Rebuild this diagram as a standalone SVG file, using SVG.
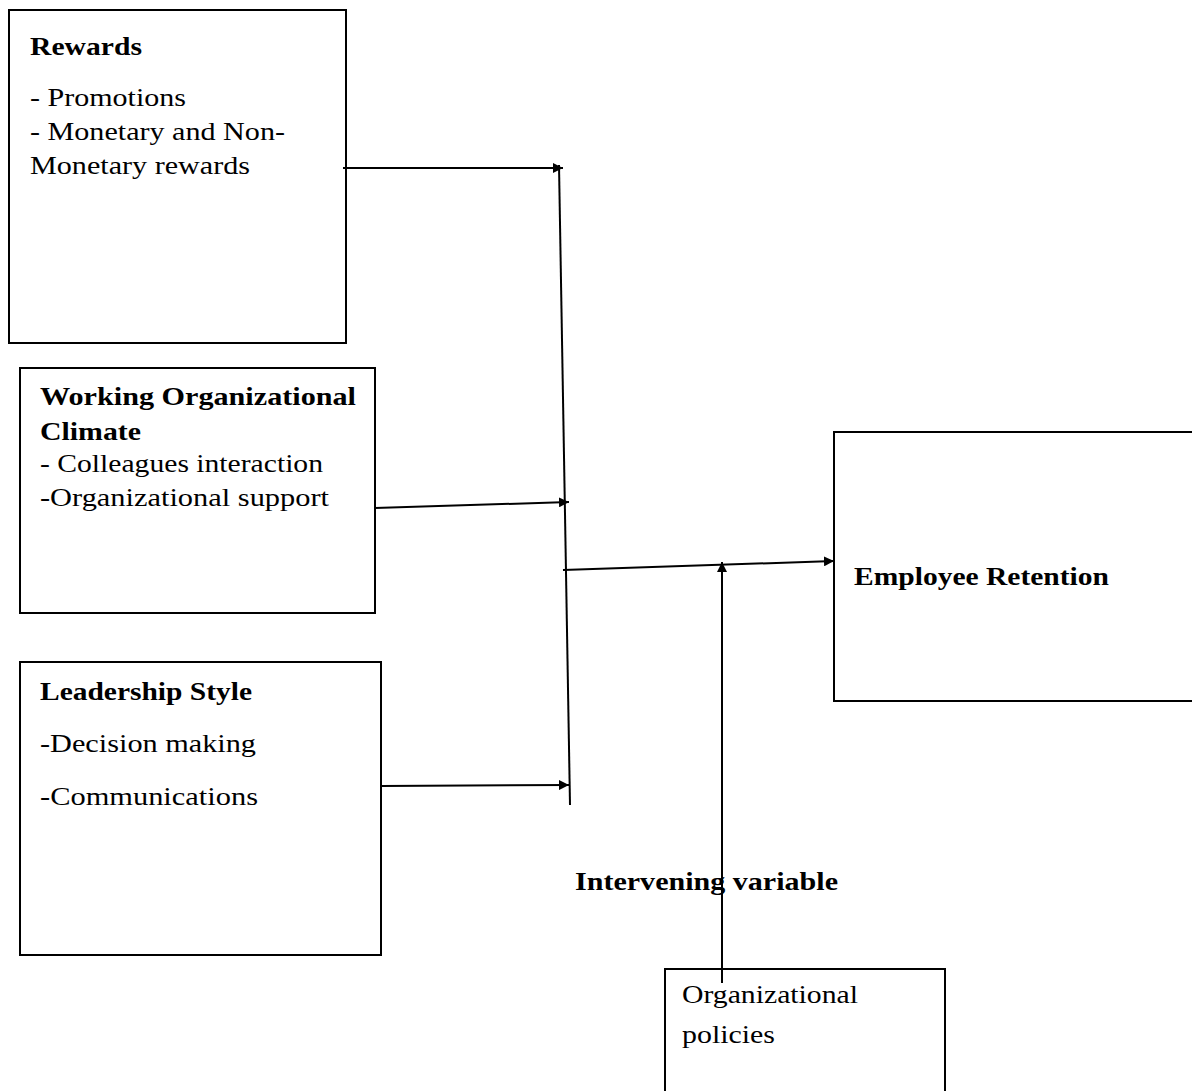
<svg xmlns="http://www.w3.org/2000/svg" width="1192" height="1091" viewBox="0 0 1192 1091">
<defs>
<style>
.box{fill:#fff;stroke:#000;stroke-width:2}
.t{font-family:"Liberation Serif","Times New Roman",serif;font-size:25px;fill:#000}
.b{font-weight:bold}
.c{stroke:#000;stroke-width:2;fill:none}
</style>
<marker id="ah" viewBox="0 0 10 10" refX="10" refY="5" markerWidth="5" markerHeight="5" orient="auto" markerUnits="strokeWidth">
<path d="M0,0 L10,5 L0,10 z" fill="#000"/>
</marker>
</defs>
<rect width="1192" height="1091" fill="#fff"/>
<g id="rewards">
<rect class="box" x="9" y="10" width="337" height="333"/>
<text class="t b" x="30" y="55" textLength="112" lengthAdjust="spacingAndGlyphs">Rewards</text>
<text class="t" x="30" y="106" textLength="156" lengthAdjust="spacingAndGlyphs">- Promotions</text>
<text class="t" x="30" y="140" textLength="255" lengthAdjust="spacingAndGlyphs">- Monetary and Non-</text>
<text class="t" x="30" y="174" textLength="220" lengthAdjust="spacingAndGlyphs">Monetary rewards</text>
</g>
<g id="climate">
<rect class="box" x="20" y="368" width="355" height="245"/>
<text class="t b" x="40" y="405" textLength="316" lengthAdjust="spacingAndGlyphs">Working Organizational</text>
<text class="t b" x="40" y="440" textLength="101" lengthAdjust="spacingAndGlyphs">Climate</text>
<text class="t" x="40" y="472" textLength="283" lengthAdjust="spacingAndGlyphs">- Colleagues interaction</text>
<text class="t" x="40" y="506" textLength="289" lengthAdjust="spacingAndGlyphs">-Organizational support</text>
</g>
<g id="leadership">
<rect class="box" x="20" y="662" width="361" height="293"/>
<text class="t b" x="40" y="700" textLength="212" lengthAdjust="spacingAndGlyphs">Leadership Style</text>
<text class="t" x="40" y="752" textLength="216" lengthAdjust="spacingAndGlyphs">-Decision making</text>
<text class="t" x="40" y="805" textLength="218" lengthAdjust="spacingAndGlyphs">-Communications</text>
</g>
<g id="retention">
<rect class="box" x="834" y="432" width="370" height="269"/>
<text class="t b" x="854" y="585" textLength="255" lengthAdjust="spacingAndGlyphs">Employee Retention</text>
</g>
<g id="policies">
<rect class="box" x="665" y="969" width="280" height="130"/>
<text class="t" x="682" y="1003" textLength="176" lengthAdjust="spacingAndGlyphs">Organizational</text>
<text class="t" x="682" y="1043" textLength="93" lengthAdjust="spacingAndGlyphs">policies</text>
</g>
<g id="intervening-label">
<text class="t b" x="575" y="890" textLength="263" lengthAdjust="spacingAndGlyphs">Intervening variable</text>
</g>
<g id="connectors">
<line class="c" x1="559" y1="165" x2="570" y2="805"/>
<line class="c" x1="343" y1="168" x2="563" y2="168" marker-end="url(#ah)"/>
<line class="c" x1="375" y1="508" x2="569" y2="502" marker-end="url(#ah)"/>
<line class="c" x1="381" y1="786" x2="569" y2="785" marker-end="url(#ah)"/>
<line class="c" x1="563" y1="570" x2="834" y2="561" marker-end="url(#ah)"/>
<line class="c" x1="722" y1="983" x2="722" y2="562" marker-end="url(#ah)"/>
</g>
</svg>
